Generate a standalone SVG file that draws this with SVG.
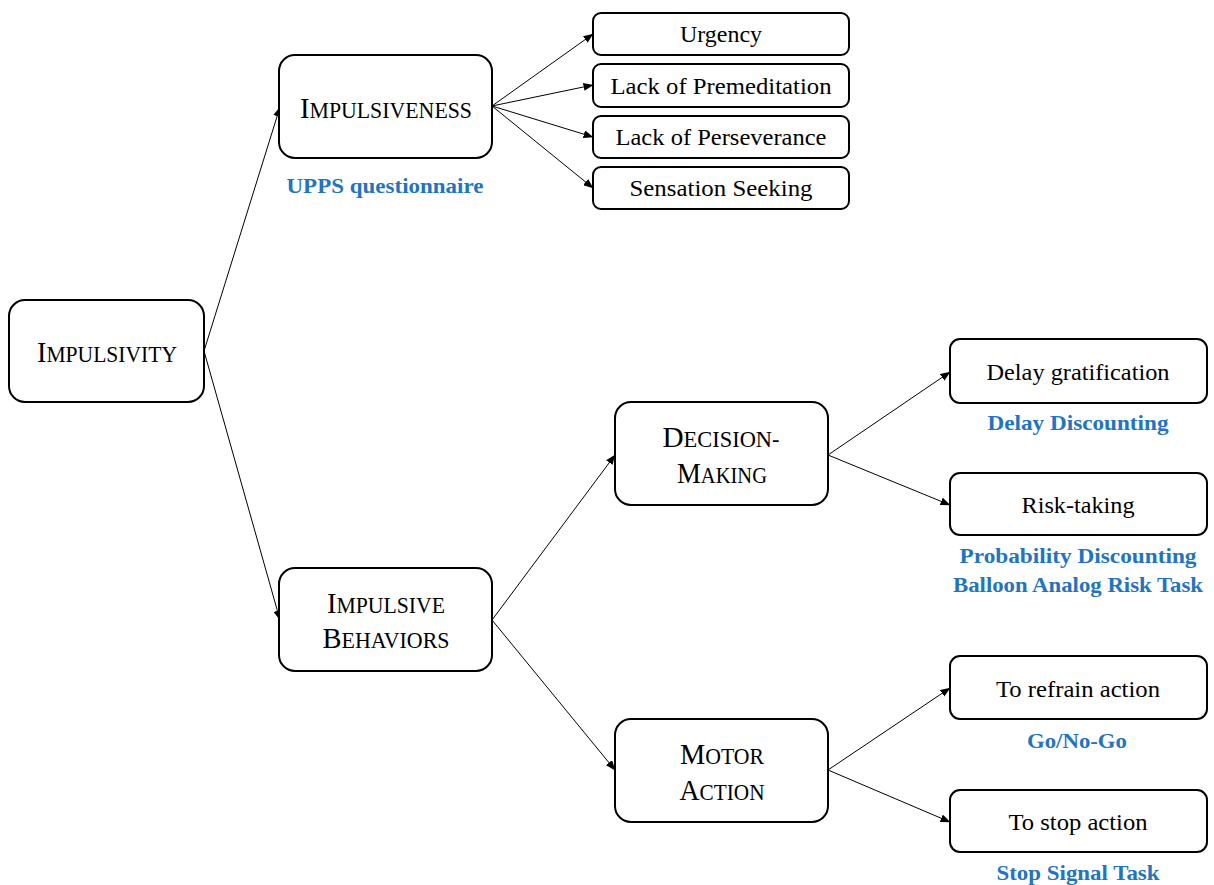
<svg xmlns="http://www.w3.org/2000/svg" width="1214" height="885" viewBox="0 0 1214 885">
<style>
.box{fill:#fff;stroke:#000;stroke-width:2}
.t{font-family:"Liberation Serif","DejaVu Serif",serif;fill:#000;text-anchor:middle}
.main{font-size:30px}
.sc{font-size:23px}
.sub{font-size:23px}
.blue{font-family:"Liberation Serif","DejaVu Serif",serif;font-weight:bold;font-size:22px;fill:#2274BF;text-anchor:middle}
.con line{stroke:#000;stroke-width:1;marker-end:url(#ah)}
</style>
<defs>
<marker id="ah" markerWidth="10" markerHeight="8" refX="9.5" refY="4" orient="auto" markerUnits="userSpaceOnUse">
<path d="M0,0 L10,4 L0,8 z" fill="#000"/>
</marker>
</defs>
<rect width="1214" height="885" fill="#fff"/>
<g class="con">
<line x1="204" y1="351" x2="280" y2="107"/>
<line x1="204" y1="351" x2="280" y2="620"/>
<line x1="492" y1="106" x2="593" y2="34"/>
<line x1="492" y1="106" x2="593" y2="85"/>
<line x1="492" y1="106" x2="593" y2="137"/>
<line x1="492" y1="106" x2="593" y2="188"/>
<line x1="492" y1="620" x2="615" y2="455"/>
<line x1="492" y1="620" x2="615" y2="770"/>
<line x1="828" y1="455" x2="950" y2="372"/>
<line x1="828" y1="455" x2="950" y2="505"/>
<line x1="828" y1="770" x2="950" y2="688"/>
<line x1="828" y1="770" x2="950" y2="822"/>
</g>
<g id="impulsivity">
<rect class="box" x="9" y="300" width="195" height="102" rx="16"/>
<text class="t main" x="107" y="362" textLength="140" lengthAdjust="spacingAndGlyphs">I<tspan class="sc">MPULSIVITY</tspan></text>
</g>
<g id="impulsiveness">
<rect class="box" x="279" y="55" width="213" height="103" rx="16"/>
<text class="t main" x="386" y="118" textLength="172" lengthAdjust="spacingAndGlyphs">I<tspan class="sc">MPULSIVENESS</tspan></text>
<text class="blue" x="385" y="193" textLength="197" lengthAdjust="spacingAndGlyphs">UPPS questionnaire</text>
</g>
<g id="urgency">
<rect class="box" x="593" y="13" width="256" height="42" rx="8"/>
<text class="t sub" x="721" y="42" textLength="82" lengthAdjust="spacingAndGlyphs">Urgency</text>
</g>
<g id="premeditation">
<rect class="box" x="593" y="64" width="256" height="43" rx="8"/>
<text class="t sub" x="721" y="94" textLength="221" lengthAdjust="spacingAndGlyphs">Lack of Premeditation</text>
</g>
<g id="perseverance">
<rect class="box" x="593" y="116" width="256" height="42" rx="8"/>
<text class="t sub" x="721" y="145" textLength="211" lengthAdjust="spacingAndGlyphs">Lack of Perseverance</text>
</g>
<g id="sensation">
<rect class="box" x="593" y="167" width="256" height="42" rx="8"/>
<text class="t sub" x="721" y="196" textLength="183" lengthAdjust="spacingAndGlyphs">Sensation Seeking</text>
</g>
<g id="behaviors">
<rect class="box" x="279" y="568" width="213" height="103" rx="16"/>
<text class="t main" x="386" y="613" textLength="118" lengthAdjust="spacingAndGlyphs">I<tspan class="sc">MPULSIVE</tspan></text>
<text class="t main" x="386" y="648" textLength="127" lengthAdjust="spacingAndGlyphs">B<tspan class="sc">EHAVIORS</tspan></text>
</g>
<g id="decision">
<rect class="box" x="615" y="402" width="213" height="103" rx="16"/>
<text class="t main" x="721" y="447" textLength="117" lengthAdjust="spacingAndGlyphs">D<tspan class="sc">ECISION-</tspan></text>
<text class="t main" x="722" y="483" textLength="90" lengthAdjust="spacingAndGlyphs">M<tspan class="sc">AKING</tspan></text>
</g>
<g id="motor">
<rect class="box" x="615" y="719" width="213" height="103" rx="16"/>
<text class="t main" x="722" y="764" textLength="84" lengthAdjust="spacingAndGlyphs">M<tspan class="sc">OTOR</tspan></text>
<text class="t main" x="722" y="800" textLength="85" lengthAdjust="spacingAndGlyphs">A<tspan class="sc">CTION</tspan></text>
</g>
<g id="delay">
<rect class="box" x="950" y="339" width="257" height="64" rx="10"/>
<text class="t sub" x="1078" y="380" textLength="183" lengthAdjust="spacingAndGlyphs">Delay gratification</text>
<text class="blue" x="1078" y="430" textLength="181" lengthAdjust="spacingAndGlyphs">Delay Discounting</text>
</g>
<g id="risk">
<rect class="box" x="950" y="473" width="257" height="62" rx="10"/>
<text class="t sub" x="1078" y="513" textLength="113" lengthAdjust="spacingAndGlyphs">Risk-taking</text>
<text class="blue" x="1078" y="563" textLength="237" lengthAdjust="spacingAndGlyphs">Probability Discounting</text>
<text class="blue" x="1078" y="592" textLength="250" lengthAdjust="spacingAndGlyphs">Balloon Analog Risk Task</text>
</g>
<g id="refrain">
<rect class="box" x="950" y="656" width="257" height="63" rx="10"/>
<text class="t sub" x="1078" y="697" textLength="164" lengthAdjust="spacingAndGlyphs">To refrain action</text>
<text class="blue" x="1077" y="748" textLength="100" lengthAdjust="spacingAndGlyphs">Go/No-Go</text>
</g>
<g id="stop">
<rect class="box" x="950" y="790" width="257" height="62" rx="10"/>
<text class="t sub" x="1078" y="830" textLength="139" lengthAdjust="spacingAndGlyphs">To stop action</text>
<text class="blue" x="1078" y="880" textLength="163" lengthAdjust="spacingAndGlyphs">Stop Signal Task</text>
</g>
</svg>
